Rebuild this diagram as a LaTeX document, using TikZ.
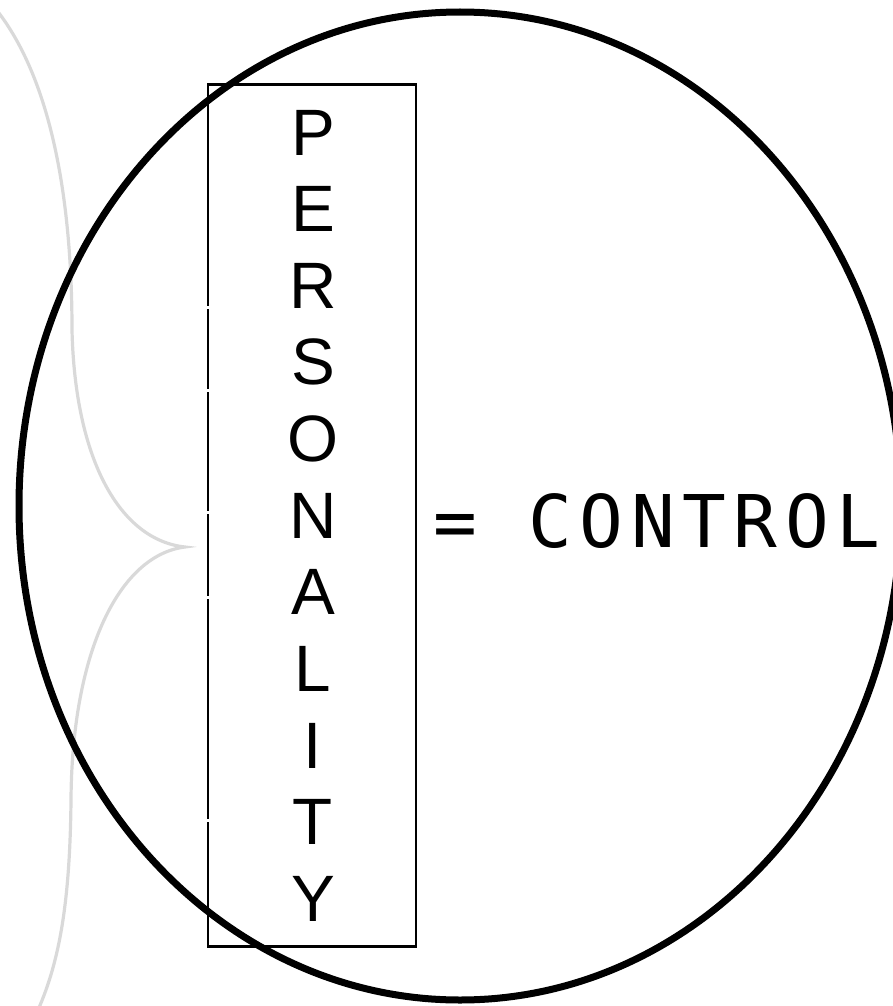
\documentclass[tikz,border=0pt]{standalone}
\usepackage{fontspec}
\setmainfont{Liberation Sans}
\newfontfamily\plotfont{DejaVu Sans Mono}[LetterSpace=10.5]
\usetikzlibrary{positioning}

\begin{document}
\begin{tikzpicture}[
    x=1pt, y=-1pt,
    % --- Node styles ---
    letter/.style={font=\fontsize{65.6}{70}\selectfont, anchor=base, inner sep=0pt},
    namebox/.style={draw, line width=2.4pt, minimum width=208pt, minimum height=862pt, inner sep=0pt},
    slogan/.style={font=\plotfont\fontsize{72.7}{80}\selectfont, anchor=base west, inner sep=0pt},
    % --- Line styles ---
    ring/.style={line width=7pt},
    bracket/.style={draw=black!15, line width=3.2pt, line cap=round},
    notch/.style={white, line width=3pt},
]
\useasboundingbox (0,0) rectangle (892,1006);

% === Gray brace on the left ===
\coordinate (tip) at (185,547);
\draw[bracket] (-5,8) .. controls (45,70) and (72,180) .. (72,330)
  .. controls (75,460) and (120,540) .. (tip)
  .. controls (120,555) and (72,650) .. (71,800)
  .. controls (70,900) and (60,960) .. (38,1010);

% === Vertical word in its box ===
\node[namebox] (box) at (312,515.5) {};
\foreach \y in {307,390,512,597,820}
  \draw[notch] (204,\y) -- (212,\y);
\foreach \l [count=\i from 0] in {P,E,R,S,O,N,A,L,I,T,Y}
  \node[letter] (p\i) at (313,155+76.65*\i) {\l};

% === Right-hand side ===
\node[slogan] (ctrl) at (433,547) {= CONTROL};

% Big ring over everything
\draw[ring] (460,506) ellipse [x radius=441, y radius=494];

\end{tikzpicture}
\end{document}
